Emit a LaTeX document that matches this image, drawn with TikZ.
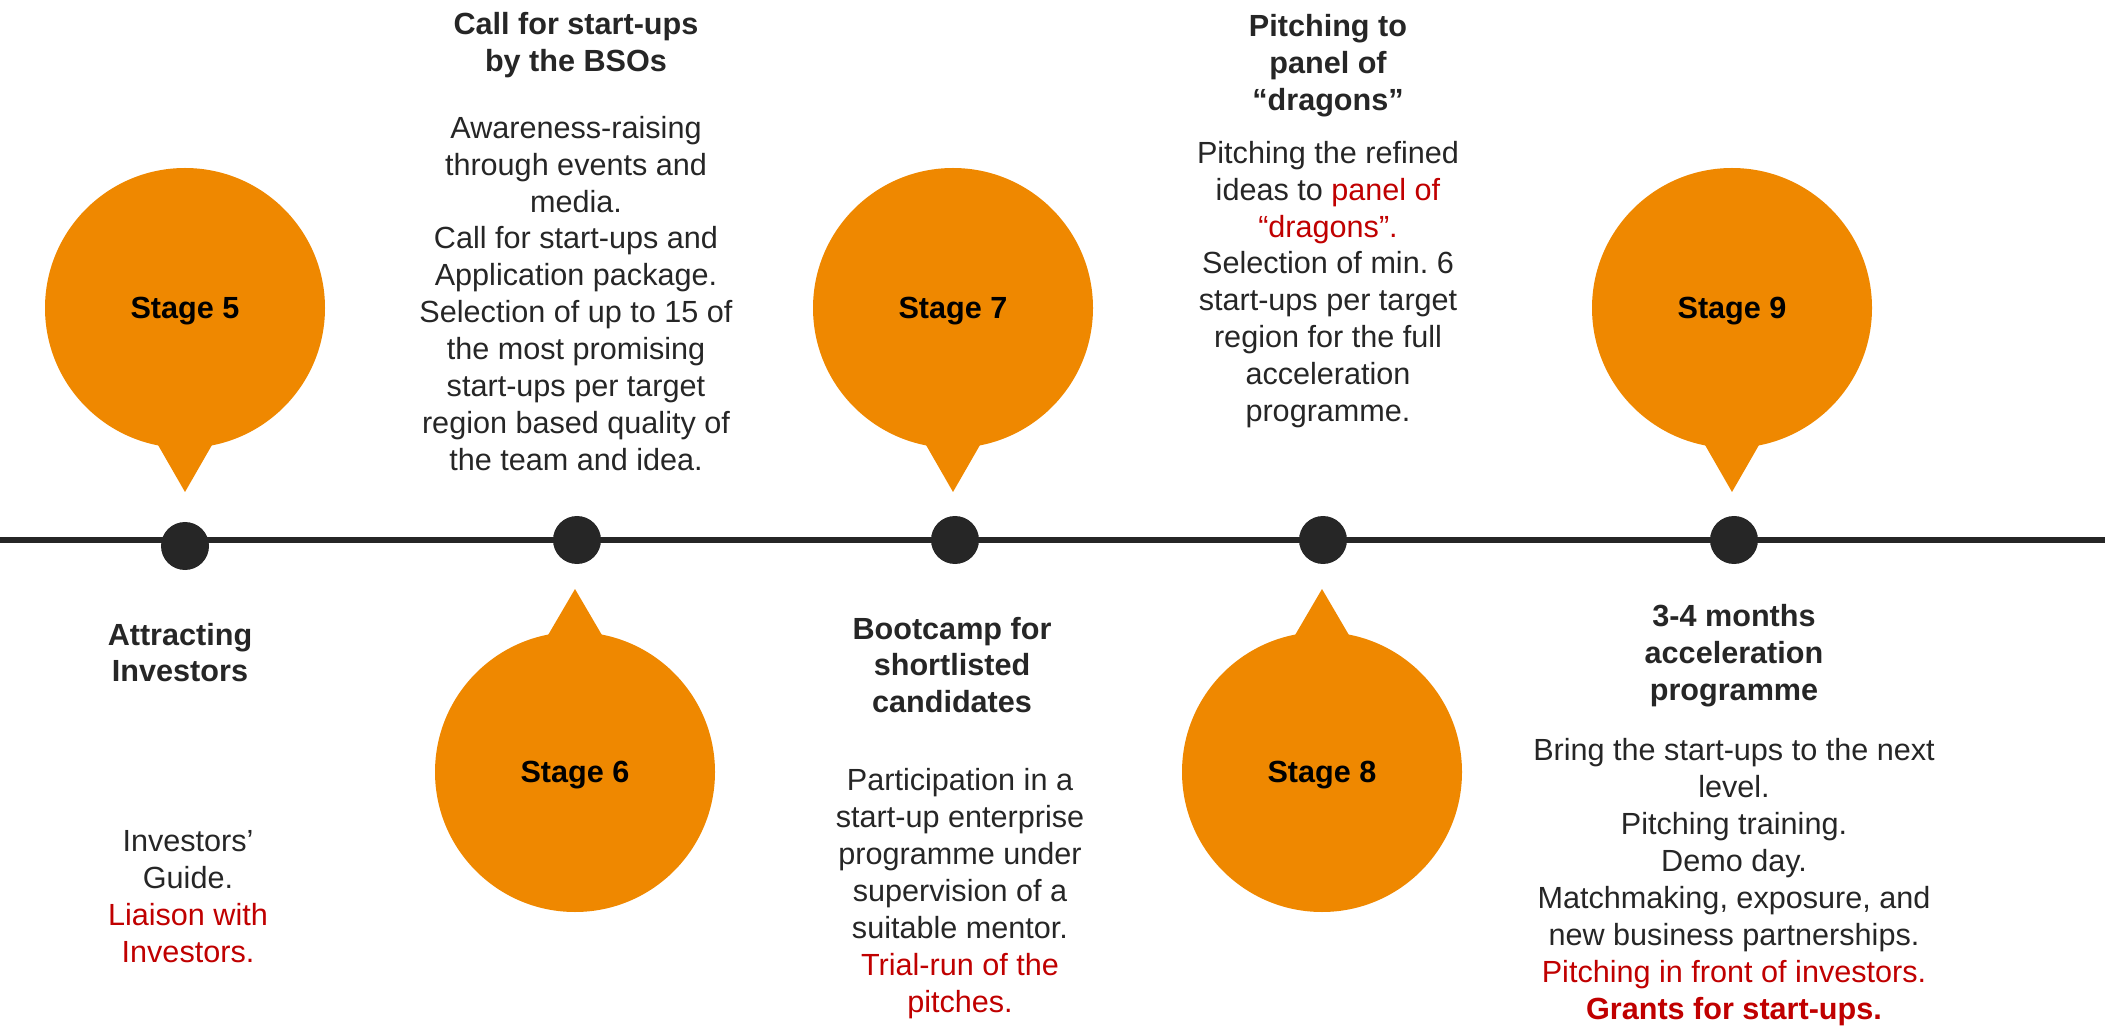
\documentclass[tikz,border=0pt]{standalone}
\usepackage{fontspec}
\setmainfont{Liberation Sans}
\usetikzlibrary{calc}
\frenchspacing
\definecolor{orng}{RGB}{239,136,0}
\definecolor{ink}{RGB}{38,38,38}
\definecolor{rd}{RGB}{192,0,0}
\newcommand\tblock[5]{\foreach \ln [count=\k] in {#5} {\node[#4] (#1-\k) at (#2,{#3+(\k-1)*36.9}) {\ln};}}
\newcommand\taildown[1]{\fill[orng] ($(#1.center)+(-31,130)$) -- ($(#1.center)+(31,130)$) -- ($(#1.center)+(0,184)$) -- cycle;}
\newcommand\tailup[1]{\fill[orng] ($(#1.center)+(-31,-130)$) -- ($(#1.center)+(31,-130)$) -- ($(#1.center)+(0,-183)$) -- cycle;}
\begin{document}
\begin{tikzpicture}[x=0.5pt,y=-0.5pt,
  txt/.style={anchor=base,inner sep=0pt,text=ink,font=\fontsize{15.3}{18.4}\selectfont\frenchspacing},
  hd/.style={txt,font=\fontsize{15.3}{18.4}\selectfont\frenchspacing\bfseries},
  balloon/.style={circle,fill=orng,minimum size=140pt,inner sep=0pt,text depth=0pt,text=black,font=\fontsize{15.3}{18.4}\selectfont\bfseries},
  dot/.style={circle,fill=ink,minimum size=24pt,inner sep=0pt},
  tl/.style={draw=ink,line width=3pt}]
\useasboundingbox (0,0) rectangle (2105,1026);
% timeline
\coordinate (L) at (0,540);
\coordinate (R) at (2105,540);
\draw[tl] (L) -- (R);
% balloons
\node[balloon] (s5) at (185,308) {Stage 5};
\taildown{s5}
\node[balloon] (s7) at (953,308) {Stage 7};
\taildown{s7}
\node[balloon] (s9) at (1732,308) {Stage 9};
\taildown{s9}
\node[balloon] (s6) at (575,772) {Stage 6};
\tailup{s6}
\node[balloon] (s8) at (1322,772) {Stage 8};
\tailup{s8}
% dots
\node[dot] (d5) at (185,546) {};
\node[dot] (d6) at (577,540) {};
\node[dot] (d7) at (955,540) {};
\node[dot] (d8) at (1323,540) {};
\node[dot] (d9) at (1734,540) {};
% texts
\tblock{h6}{576}{34.3}{hd}{Call for start-ups, by the BSOs}
\tblock{b6}{576}{138.3}{txt}{Awareness-raising, through events and, media., Call for start-ups and, Application package., Selection of up to 15 of, the most promising, start-ups per target, region based quality of, the team and idea.}
\tblock{h8}{1328}{36.7}{hd}{Pitching to, panel of, “dragons”}
\tblock{b8}{1328}{163.3}{txt}{Pitching the refined, ideas to \textcolor{rd}{panel of}, \textcolor{rd}{“dragons”.}, Selection of min. 6, start-ups per target, region for the full, acceleration, programme.}
\tblock{h5}{180}{645}{hd}{Attracting, Investors}
\tblock{b5}{188}{851.7}{txt}{Investors’, Guide., \textcolor{rd}{Liaison with}, \textcolor{rd}{Investors.}}
\tblock{h7}{952}{639}{hd}{Bootcamp for, shortlisted, candidates}
\tblock{b7}{960}{790.7}{txt}{Participation in a, start-up enterprise, programme under, supervision of a, suitable mentor., \textcolor{rd}{Trial-run of the}, \textcolor{rd}{pitches.}}
\tblock{h9}{1734}{626.7}{hd}{3-4 months, acceleration, programme}
\tblock{b9}{1734}{760.7}{txt}{Bring the start-ups to the next, level., Pitching training., Demo day., {Matchmaking, exposure, and}, new business partnerships., \textcolor{rd}{Pitching in front of investors.}, \textcolor{rd}{\bfseries Grants for start-ups.}}
\end{tikzpicture}
\end{document}
